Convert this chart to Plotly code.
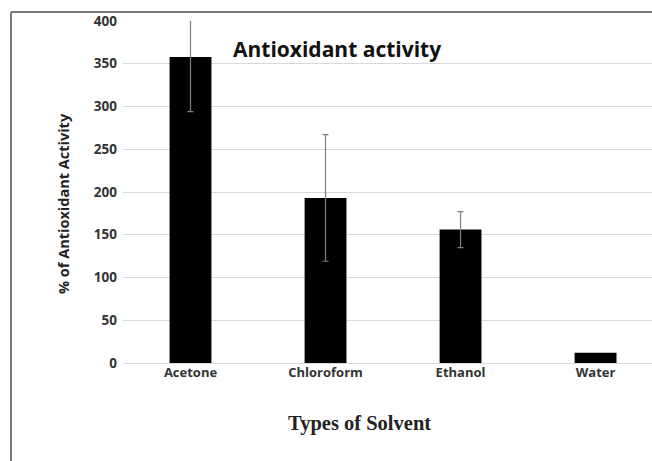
import plotly.graph_objects as go

# Antioxidant activity by extraction solvent (mean ± error)
solvents = ["Acetone", "Chloroform", "Ethanol", "Water"]
activity = [358, 193, 156, 12]
error = [64, 74, 21, None]
y_ticks = [0, 50, 100, 150, 200, 250, 300, 350, 400]

W, H = 652, 461
L, R, T, B = 123, 0, 21, 98
pw, ph = W - L - R, H - T - B


def px_x(p):
    return (p - L) / pw


def px_y(p):
    return (H - B - p) / ph


fig = go.Figure()
# bars that carry an error estimate, then the rest without whiskers
with_err = [i for i, e in enumerate(error) if e is not None]
no_err = [i for i, e in enumerate(error) if e is None]
fig.add_trace(go.Bar(
    x=[solvents[i] for i in with_err],
    y=[activity[i] for i in with_err],
    width=0.31,
    marker=dict(color="#000000", line=dict(width=0)),
    error_y=dict(type="data", array=[error[i] for i in with_err], visible=True,
                 color="#7f7f7f", thickness=1.2, width=3),
))
fig.add_trace(go.Bar(
    x=[solvents[i] for i in no_err],
    y=[activity[i] for i in no_err],
    width=0.31,
    marker=dict(color="#000000", line=dict(width=0)),
))

edge = dict(color="#7a7a7a", width=2)
fig.update_layout(
    width=W, height=H,
    margin=dict(l=L, r=R, t=T, b=B),
    paper_bgcolor="white", plot_bgcolor="white",
    showlegend=False, barmode="overlay",
    font=dict(family="Open Sans", color="#333333"),
    xaxis=dict(
        categoryorder="array", categoryarray=solvents,
        range=[-0.5, 3.418],
        showgrid=False, showline=False, zeroline=False, ticks="",
        tickfont=dict(family="Open Sans", size=13, color="#333333", weight="bold"),
    ),
    yaxis=dict(
        range=[0, 400], tickvals=y_ticks,
        showgrid=True, gridcolor="#d9d9d9", gridwidth=1,
        zeroline=True, zerolinecolor="#d9d9d9", zerolinewidth=1,
        showline=False, ticks="", ticklabelstandoff=5,
        tickfont=dict(family="Open Sans", size=13.5, color="#333333", weight="bold"),
    ),
    annotations=[
        dict(text="<b>Antioxidant activity</b>", xref="paper", yref="paper",
             x=px_x(337), y=px_y(49), xanchor="center", yanchor="middle",
             showarrow=False, font=dict(family="Open Sans", size=21, color="#111111")),
        dict(text="<b>% of Antioxidant Activity</b>", xref="paper", yref="paper",
             x=px_x(63), y=px_y(204), xanchor="center", yanchor="middle",
             textangle=-90, showarrow=False,
             font=dict(family="Open Sans", size=14.5, color="#222222")),
        dict(text="<b>Types of Solvent</b>", xref="paper", yref="paper",
             x=px_x(359), y=px_y(423), xanchor="center", yanchor="middle",
             showarrow=False,
             font=dict(family="Liberation Serif", size=20.5, color="#222222")),
    ],
    shapes=[
        # outer frame: top and left edges
        dict(type="line", xref="paper", yref="paper",
             x0=px_x(11), y0=px_y(12), x1=px_x(700), y1=px_y(12),
             line=edge, layer="below"),
        dict(type="line", xref="paper", yref="paper",
             x0=px_x(11), y0=px_y(12), x1=px_x(11), y1=px_y(500),
             line=edge, layer="below"),
    ],
)

fig.write_html("out.html")
